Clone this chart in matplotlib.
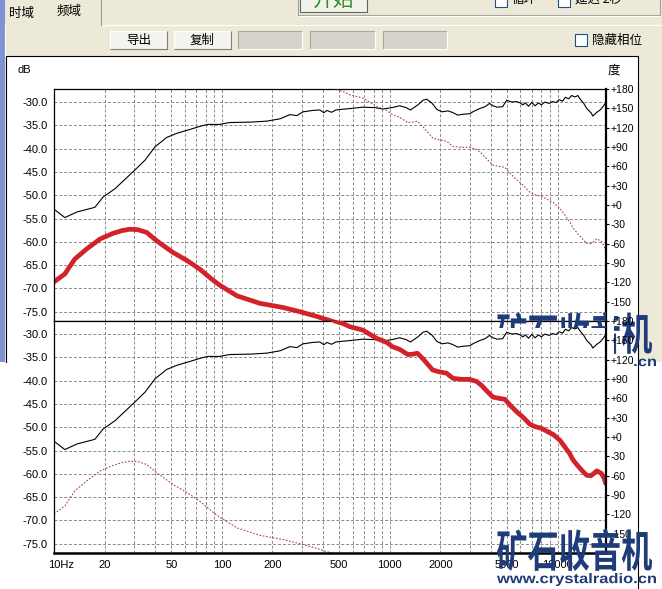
import matplotlib
matplotlib.use("Agg")
import matplotlib.pyplot as plt
from matplotlib.patches import Rectangle, PathPatch
from matplotlib.textpath import TextPath
from matplotlib.font_manager import FontProperties
from matplotlib.ticker import NullLocator
from matplotlib.transforms import Affine2D, blended_transform_factory, offset_copy

W, H = 662, 589

# black magnitude curve (dB)
black_freq = [10, 11.6, 13.7, 17.5, 19.6, 23.1, 29.5, 34.8, 40, 46.9,
              54, 62.9, 76, 82.6, 97, 111, 150, 185, 222, 254,
              280, 304, 348, 383, 405, 422, 450, 477, 505, 580,
              690, 815, 907, 1030, 1146, 1250, 1330, 1470, 1580, 1660,
              1780, 1910, 2050, 2220, 2350, 2540, 2760, 2990, 3200, 3430,
              3690, 3930, 4110, 4360, 4700, 4970, 5330, 5640, 5920, 6200,
              6420, 6710, 7000, 7340, 7680, 8000, 8380, 8900, 9300, 9800,
              10200, 10700, 11100, 11650, 12100, 12700, 13200, 13500, 14300, 14900,
              15800, 16200, 17100, 17900, 18600, 19200]
black_db = [-53.0, -54.8, -53.6, -52.6, -50.4, -48.6, -45.0, -42.5, -39.6, -37.6,
            -36.7, -36.0, -35.1, -34.8, -34.8, -34.4, -34.3, -34.1, -33.6, -32.7,
            -32.9, -32.1, -31.8, -31.7, -32.3, -31.8, -32.2, -31.7, -31.6, -31.4,
            -31.1, -31.2, -31.5, -31.2, -30.8, -31.2, -31.7, -30.6, -29.6, -29.4,
            -30.2, -31.6, -32.1, -31.9, -32.2, -32.8, -32.6, -32.5, -31.9, -31.4,
            -31.0, -30.3, -30.8, -31.1, -31.0, -29.6, -30.0, -29.9, -30.1, -30.6,
            -30.2, -30.9, -30.1, -30.8, -30.2, -30.6, -30.0, -30.3, -29.9, -30.1,
            -29.5, -29.8, -29.0, -29.3, -28.6, -28.9, -28.6, -29.2, -30.3, -31.4,
            -32.3, -33.0, -32.2, -31.7, -31.0, -30.3]

# red magnitude curve (dB)
red_freq = [10, 11.6, 13.3, 15.7, 18.8, 22.4, 25.4, 28.3, 31.6, 35.7,
            39.4, 42.8, 51.2, 61.9, 74, 88.3, 97, 123, 168, 231,
            291, 358, 422, 505, 660]
red_db = [-68.6, -66.9, -63.7, -61.5, -59.4, -58.2, -57.6, -57.3, -57.4, -58.0,
          -59.3, -60.3, -62.3, -64.0, -65.9, -68.2, -69.3, -71.6, -73.2, -74.1,
          -75.0, -75.9, -76.7, -77.6, -79.0]

# red phase curve (degrees)
phase_freq = [382, 470, 527, 580, 690, 836, 957, 1040, 1146, 1280,
              1370, 1460, 1580, 1800, 1980, 2180, 2380, 2680, 2990, 3300,
              3520, 3830, 4110, 4460, 4850, 5260, 5710, 6200, 6820, 7340,
              8000, 8750, 9400, 10300, 11000, 11800, 12300, 13200, 14200, 14900,
              15800, 16500, 17100, 18200, 18900, 19300]
phase_deg = [195, 180, 176, 171, 166, 153, 147, 140, 136, 128,
             128.5, 130, 121, 104, 101, 99, 91, 89.5, 89.5, 86,
             80, 70, 62, 60, 58.5, 48, 39, 31, 20, 16,
             13.6, 8, 4, -5, -15, -26, -35, -45, -54, -59.5,
             -60, -56, -52.5, -56.5, -64, -72]

db_ticks = [-30, -35, -40, -45, -50, -55, -60, -65, -70, -75]
deg_ticks = [180, 150, 120, 90, 60, 30, 0, -30, -60, -90, -120, -150]
deg_labels = ["+180", "+150", "+120", "+90", "+60", "+30", "+0",
              "-30", "-60", "-90", "-120", "-150"]
x_label_freq = [10, 20, 50, 100, 200, 500, 1000, 2000, 5000, 10000]
x_labels = ["10Hz", "20", "50", "100", "200", "500", "1000", "2000", "5000", "10000"]
grid_freq = [m * d for d in (10, 100, 1000) for m in range(1, 10)][1:] + [10000]

CJK = "Noto Sans CJK SC"
plt.rcParams['font.family'] = ['Liberation Sans', CJK, 'DejaVu Sans']

fig = plt.figure(figsize=(W / 100, H / 100), dpi=100)
fig.patch.set_facecolor('#ece9d8')

bg = fig.add_axes([0, 0, 1, 1])
bg.set_xlim(0, W)
bg.set_ylim(H, 0)
bg.axis('off')


def rect(x0, y0, x1, y1, fc, ec='none', lw=0.72, z=1):
    bg.add_patch(Rectangle((x0, y0), x1 - x0, y1 - y0, facecolor=fc,
                           edgecolor=ec, lw=lw, zorder=z))


def edge(x0, y0, x1, y1, tl, br, z=2):
    bg.plot([x0, x0, x1], [y1, y0, y0], color=tl, lw=0.8, zorder=z, solid_capstyle='butt')
    bg.plot([x0, x1, x1], [y1, y1, y0], color=br, lw=0.8, zorder=z, solid_capstyle='butt')


# window frame and top controls
rect(0, 0, 5, 362, '#7f92d4')
rect(641, 0, 662, 362, '#ece9d8')
bg.plot([101, 662], [25, 25], color='white', lw=0.8, zorder=2)
bg.plot([101, 101], [0, 25], color='#919b9c', lw=0.8, zorder=2)
bg.plot([5, 5], [25, 56], color='white', lw=0.8, zorder=2)
bg.text(9, 13, "时域", fontsize=9, va='center', family=CJK)
bg.text(57, 11, "频域", fontsize=9, va='center', family=CJK)

bg.plot([298, 298, 660, 660], [0, 15, 15, 0], color='#a0a0a0', lw=0.8, zorder=2)
bg.plot([299, 659], [16, 16], color='white', lw=0.8, zorder=2)
rect(300, -5, 367, 12, '#f3f2e8', '#5a6a5a', 0.8, z=2)
bg.text(334, 11, "开始", fontsize=15, color='#2e8b2e', ha='center', va='bottom',
        family=CJK, zorder=3)
rect(495, -5, 507, 7, 'white', '#1c5180', 0.8, z=2)
bg.text(512, 6, "循环", fontsize=9, va='bottom', family=CJK)
rect(558, -5, 570, 7, 'white', '#1c5180', 0.8, z=2)
bg.text(575, 6, "延迟 2秒", fontsize=9, va='bottom', family=CJK)

for x0, x1, label in [(110, 167, "导出"), (174, 231, "复制")]:
    rect(x0, 31, x1, 49, '#f4f3ee')
    edge(x0, 31, x1, 49, 'white', '#7f7f7f')
    bg.text((x0 + x1) / 2, 40.5, label, fontsize=9, ha='center', va='center', family=CJK, zorder=3)
for x0, x1 in [(238, 302), (310, 375), (383, 447)]:
    rect(x0, 31, x1, 49, '#d6d3cb')
    edge(x0, 31, x1, 49, '#a8a8a0', 'white')
rect(575, 34, 587, 46, 'white', '#1c5180', 0.8, z=2)
bg.text(592, 40.5, "隐藏相位", fontsize=9, va='center', family=CJK)

# white chart panel
rect(6, 56, 639, 362, 'white', z=1)
rect(0, 362, 662, 589, 'white', z=1)
bg.plot([6, 6, 638, 638], [362, 56, 56, 589], color='black', lw=0.8, zorder=2)
bg.text(17, 70, "dB", fontsize=8, va='center')
bg.text(608, 70, "度", fontsize=9, va='center', family=CJK)

navy = '#1e3c7a'


def path_text(ax, s, x0, y0, x1, y1, fp, clip=None, z=4):
    tp = TextPath((0, 0), s, size=100, prop=fp)
    bb = tp.get_extents()
    tr = Affine2D().translate(-bb.x0, -bb.y0).scale((x1 - x0) / bb.width,
                                                    -(y1 - y0) / bb.height).translate(x0, y1)
    p = PathPatch(tr.transform_path(tp), facecolor=navy, edgecolor='none', zorder=z)
    ax.add_patch(p)
    if clip is not None:
        cr = Rectangle((clip[0], clip[1]), clip[2] - clip[0], clip[3] - clip[1],
                       transform=ax.transData)
        p.set_clip_path(cr)


fp_cjk = FontProperties(family=CJK, weight='bold')
fp_url = FontProperties(family='Liberation Sans', weight='bold')

# hidden copy of watermark behind the lower chart (right strip part)
path_text(bg, "矿石收音机", 497, 312, 652, 354, fp_cjk, clip=(614, 312, 653, 372), z=3)
path_text(bg, "www.crystalradio.cn", 497, 356, 656, 369, fp_url, clip=(632, 312, 657, 372), z=3)


def panel(top, thick_phase):
    ax = fig.add_axes([54 / W, 1 - (top + 232) / H, 552 / W, 232 / H])
    ax.set_facecolor('white')
    ax.set_xscale('log')
    ax.set_xlim(10, 19400)
    ax.set_ylim(-77, -27.2)
    ax.set_xticks(grid_freq)
    ax.xaxis.set_minor_locator(NullLocator())
    ax.set_xticklabels([])
    ax.tick_params(axis='x', length=0)
    ax.set_yticks(db_ticks)
    ax.set_yticklabels([f"{v:.1f}" for v in db_ticks])
    ax.tick_params(axis='y', length=0, pad=4.5, labelsize=8)
    ax.grid(True, color='#8a8a8a', linestyle=(0, (3, 2)), linewidth=0.7)
    ax.spines['right'].set_visible(False)
    for s in ('top', 'left'):
        ax.spines[s].set_linewidth(0.9)
    ax.spines['bottom'].set_linewidth(1.8 if thick_phase else 0.9)

    ax.plot(black_freq, black_db, color='black', lw=0.8)
    if thick_phase:
        ax.plot(red_freq, red_db, color='#a84a40', lw=0.8, linestyle=(0, (1.5, 1.5)))
    else:
        ax.plot(red_freq, red_db, color='#d2232a', lw=3.4,
                solid_capstyle='round', solid_joinstyle='round')

    axp = ax.twinx()
    axp.set_ylim(-180, 180)
    axp.set_yticks(deg_ticks)
    axp.set_yticklabels(deg_labels)
    axp.tick_params(axis='y', direction='out', length=2.5, width=0.8, pad=1, labelsize=7.5)
    for s in ('top', 'left', 'bottom'):
        axp.spines[s].set_visible(False)
    axp.spines['right'].set_linewidth(1.6)
    if thick_phase:
        axp.plot(phase_freq, phase_deg, color='#d2232a', lw=3.4,
                 solid_capstyle='round', solid_joinstyle='round')
    else:
        axp.plot(phase_freq, phase_deg, color='#a84a40', lw=0.8, linestyle=(0, (1.5, 1.5)))
    return ax, axp


ax_top, axp_top = panel(89, False)
ax_bot, axp_bot = panel(321, True)

trans = blended_transform_factory(ax_bot.transData, ax_bot.transAxes)
for f, lab in zip(x_label_freq, x_labels):
    if lab.endswith("Hz"):
        t = offset_copy(trans, fig=fig, x=-6, y=-12, units='dots')
        ax_bot.text(f, 0, lab, transform=t, ha='left', va='center', fontsize=8, clip_on=False)
    else:
        t = offset_copy(trans, fig=fig, x=0, y=-12, units='dots')
        ax_bot.text(f, 0, lab, transform=t, ha='center', va='center', fontsize=8, clip_on=False)

# overlay with watermarks
ov = fig.add_axes([0, 0, 1, 1])
ov.set_xlim(0, W)
ov.set_ylim(H, 0)
ov.axis('off')
path_text(ov, "矿石收音机", 497, 312, 652, 354, fp_cjk, clip=(497, 312, 606, 328))
path_text(ov, "矿石收音机", 497, 529, 652, 571, fp_cjk)
path_text(ov, "www.crystalradio.cn", 497, 573, 656, 586, fp_url)

fig.savefig("out.png", dpi=100, facecolor=fig.get_facecolor())
